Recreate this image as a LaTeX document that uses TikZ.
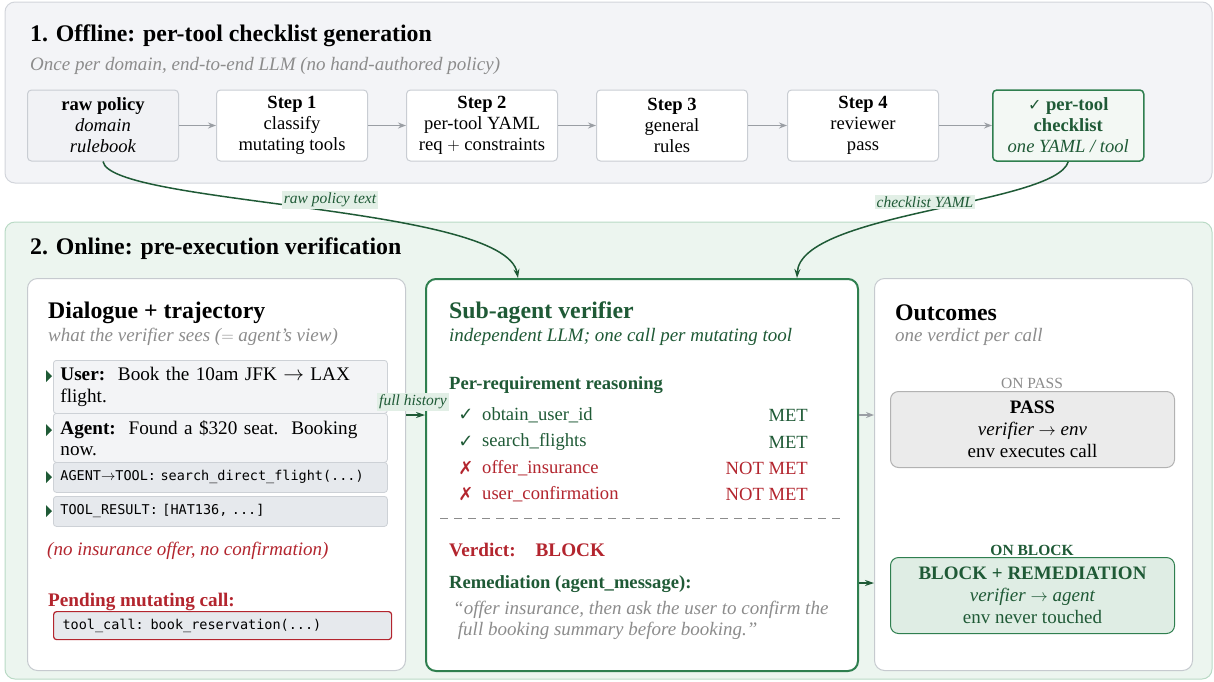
\documentclass[tikz,border=0pt]{standalone}
\usepackage{fontspec}
\setmainfont{Liberation Serif}
\setmonofont{DejaVu Sans Mono}
\newfontfamily\symfont{DejaVu Sans}
\usetikzlibrary{arrows.meta,positioning}

\definecolor{offfill}{HTML}{F3F4F7}
\definecolor{offline}{HTML}{D2D5DB}
\definecolor{onfill}{HTML}{ECF5EF}
\definecolor{online}{HTML}{B9DAC5}
\definecolor{stepline}{HTML}{C9CDD3}
\definecolor{rawfill}{HTML}{F1F2F5}
\definecolor{cardline}{HTML}{C6CACF}
\definecolor{flowgreen}{HTML}{1F5A36}
\definecolor{boxgreen}{HTML}{2F7F4F}
\definecolor{checkfill}{HTML}{F3F8F4}
\definecolor{warnred}{HTML}{B3252E}
\definecolor{subgray}{HTML}{8C8C8C}
\definecolor{arrowgray}{HTML}{9A9EA4}
\definecolor{msgfill}{HTML}{F3F4F6}
\definecolor{msgline}{HTML}{CDD1D6}
\definecolor{toolfill}{HTML}{E6E9ED}
\definecolor{passfill}{HTML}{EBEBEB}
\definecolor{passline}{HTML}{B2B2B2}
\definecolor{blockfill}{HTML}{DFEDE4}
\definecolor{labelfill}{HTML}{E2EFE6}

\newcommand\fhead{\fontsize{23.8}{27}\selectfont\bfseries}
\newcommand\fsub{\fontsize{19}{21}\selectfont\itshape}
\newcommand\fbody{\fontsize{18.6}{21}\selectfont}
\newcommand\fbig{\fontsize{19.2}{21}\selectfont}
\newcommand\fout{\fontsize{19}{22}\selectfont}
\newcommand\fcode{\fontsize{13.5}{16}\selectfont\ttfamily}
\newcommand\flabel{\fontsize{15.5}{17}\selectfont\itshape}
\newcommand\fsmall{\fontsize{15.5}{17}\selectfont}

\tikzset{
  offpanel/.style={draw=offline,fill=offfill,rounded corners=10pt,line width=1pt},
  onpanel/.style={draw=online,fill=onfill,rounded corners=10pt,line width=1pt},
  stepbox/.style={draw=stepline,fill=white,rounded corners=4pt,line width=1pt,
    minimum width=151pt,minimum height=71pt,align=center,inner sep=1pt,font=\fbody},
  card/.style={draw=cardline,fill=white,rounded corners=10pt,line width=1pt,
    anchor=north west,inner sep=0pt},
  headtext/.style={anchor=west,inner sep=0pt,font=\fhead},
  subtext/.style={anchor=west,inner sep=0pt,font=\fsub,text=subgray},
  msgbox/.style={draw=msgline,fill=msgfill,rounded corners=3pt,line width=0.8pt,
    anchor=north west,minimum width=334pt,text width=320pt,align=left,
    inner xsep=7pt,inner ysep=2pt,font=\fbig},
  toolbox/.style={msgbox,fill=toolfill,minimum height=30pt,font=\fcode},
  outbox/.style={rounded corners=8pt,line width=1pt,minimum width=284pt,
    minimum height=76pt,align=center,font=\fout,anchor=north west},
  flowarrow/.style={-{Stealth[length=9pt,width=6pt]},line width=1.5pt,draw=flowgreen},
  steparrow/.style={-{Stealth[length=8pt,width=6pt]},line width=1.2pt,draw=arrowgray},
  flowlabel/.style={fill=labelfill,inner sep=2pt,font=\flabel,text=flowgreen}
}

\begin{document}
\begin{tikzpicture}[x=1pt,y=-1pt]
\useasboundingbox (0,0) rectangle (1214,681);

% offline panel
\draw[offpanel] (5,2) rectangle (1212,183);
\node[headtext] (offhead) at (30,36) {1. Offline: per-tool checklist generation};
\node[subtext] (offsub) at (30,66) {Once per domain, end-to-end LLM (no hand-authored policy)};

\node[stepbox,fill=rawfill] (raw) at (103,125.5)
  {\textbf{raw policy}\\\textit{domain}\\\textit{rulebook}};
\node[stepbox,right=37pt of raw] (step1) {\textbf{Step 1}\\classify\\mutating tools};
\node[stepbox,right=38pt of step1] (step2) {\textbf{Step 2}\\per-tool YAML\\req $+$ constraints};
\node[stepbox,right=38pt of step2] (step3) {\textbf{Step 3}\\general\\rules};
\node[stepbox,right=39pt of step3] (step4) {\textbf{Step 4}\\reviewer\\pass};
\node[stepbox,right=53pt of step4,draw=boxgreen,fill=checkfill,line width=1.5pt,text=flowgreen] (checklist)
  {{\symfont\bfseries\fontsize{16}{21}\selectfont ✓} \textbf{per-tool}\\\textbf{checklist}\\\textit{one YAML / tool}};

\draw[steparrow] (raw) -- (step1);
\draw[steparrow] (step1) -- (step2);
\draw[steparrow] (step2) -- (step3);
\draw[steparrow] (step3) -- (step4);
\draw[steparrow] (step4) -- (checklist);

% online panel
\draw[onpanel] (5,222) rectangle (1212,679);
\node[headtext] (onhead) at (30,249) {2. Online: pre-execution verification};

% dialogue card
\node[card,minimum width=378pt,minimum height=392pt] (dialogue) at (27,278) {};
\node[headtext] (dlghead) at (48,313) {Dialogue + trajectory};
\node[subtext] (dlgsub) at (48,337) {what the verifier sees ($=$ agent's view)};

\node[msgbox,minimum height=53pt] (usermsg) at (53,360)
  {\textbf{User:}\ \ Book the 10am JFK $\rightarrow$ LAX\\flight.};
\node[msgbox,minimum height=49pt] (agentmsg) at (53,413)
  {\textbf{Agent:}\ \ Found a \$320 seat.\ \ Booking\\now.};
\node[toolbox] (callmsg) at (53,462) {AGENT$\rightarrow$TOOL: search\_direct\_flight(...)};
\node[toolbox] (resultmsg) at (53,496) {TOOL\_RESULT: [HAT136, ...]};
\foreach \yy in {376,430,477,511}
  \fill[flowgreen] (46,\yy-6) -- (52,\yy) -- (46,\yy+6) -- cycle;

\node[anchor=west,inner sep=0pt,font=\fsub,text=warnred] (missing) at (47,551)
  {(no insurance offer, no confirmation)};
\node[anchor=west,inner sep=0pt,font=\fbig\bfseries,text=warnred] (pendhead) at (48,602)
  {Pending mutating call:};
\node[toolbox,draw=warnred,line width=1.2pt,minimum height=28pt,inner xsep=9pt] (pending) at (53,611)
  {tool\_call: book\_reservation(...)};

% verifier card
\node[card,draw=boxgreen,line width=2pt,minimum width=432pt,minimum height=392pt] (verifier) at (425,278) {};
\node[headtext,text=flowgreen] (verhead) at (449,313) {Sub-agent verifier};
\node[subtext,text=flowgreen] (versub) at (449,337) {independent LLM; one call per mutating tool};
\node[anchor=west,inner sep=0pt,font=\fbody\bfseries,text=flowgreen] (reqhead) at (449,385)
  {Per-requirement reasoning};
\foreach \yy/\mk/\req/\st/\col [count=\i] in
  {415/✓/obtain\_user\_id/MET/flowgreen,
   442/✓/search\_flights/MET/flowgreen,
   468/✗/offer\_insurance/NOT MET/warnred,
   494/✗/user\_confirmation/NOT MET/warnred}
{
  \node[inner sep=0pt,text=\col,font=\symfont\bfseries\fontsize{18}{20}\selectfont] (mark\i) at (466,\yy) {\mk};
  \node[anchor=west,inner sep=0pt,text=\col,font=\fbody] (req\i) at (482,\yy) {\req};
  \node[anchor=east,inner sep=0pt,text=\col,font=\fbody] (status\i) at (808,\yy) {\st};
}
\draw[dashed,dash pattern=on 8pt off 6pt,draw=subgray,line width=1pt] (440,518) -- (840,518);
\node[anchor=west,inner sep=0pt,font=\fbig\bfseries,text=warnred] (verdict) at (449,550)
  {Verdict:\hspace{20pt}BLOCK};
\node[anchor=west,inner sep=0pt,font=\fbody\bfseries,text=flowgreen] (remhead) at (449,584)
  {Remediation (agent\_message):};
\node[anchor=north west,inner sep=0pt,font=\fsub,text=subgray,align=left] (remtext) at (453,601)
  {``offer insurance, then ask the user to confirm the\\\ full booking summary before booking.''};

% outcomes card
\node[card,minimum width=318pt,minimum height=392pt] (outcomes) at (874,278) {};
\node[headtext] (outhead) at (895,313) {Outcomes};
\node[subtext] (outsub) at (895,337) {one verdict per call};
\node[inner sep=0pt,font=\fsmall,text=subgray] (passtag) at (1032,383) {ON\ PASS};
\node[outbox,draw=passline,fill=passfill] (pass) at (890,391)
  {\textbf{PASS}\\\textit{verifier $\rightarrow$ env}\\env executes call};
\node[inner sep=0pt,font=\fsmall\bfseries,text=flowgreen] (blocktag) at (1032,550) {ON BLOCK};
\node[outbox,draw=boxgreen,fill=blockfill,text=flowgreen] (block) at (890,557)
  {\textbf{BLOCK + REMEDIATION}\\\textit{verifier $\rightarrow$ agent}\\env never touched};

% connectors
\coordinate (histrow) at (0,415);
\coordinate (blockrow) at (0,583);
\coordinate (rawin) at ([xshift=93pt]verifier.north west);
\coordinate (yamlin) at ([xshift=372pt]verifier.north west);

\draw[flowarrow,line width=1.2pt] (dialogue.east |- histrow) -- (verifier.west |- histrow);
\node[flowlabel] (histlabel) at (413,402) {full history};
\draw[steparrow] (verifier.east |- histrow) -- (outcomes.west |- histrow);
\draw[flowarrow,line width=1.2pt] (verifier.east |- blockrow) -- (outcomes.west |- blockrow);

\draw[flowarrow] (raw.south) .. controls (110,205) and (505,205) .. (rawin);
\node[flowlabel] (rawlabel) at (330,200) {raw policy text};
\draw[flowarrow] (checklist.south) .. controls (1055,205) and (800,212) .. (yamlin);
\node[flowlabel] (yamllabel) at (925,202) {checklist YAML};
\end{tikzpicture}
\end{document}
